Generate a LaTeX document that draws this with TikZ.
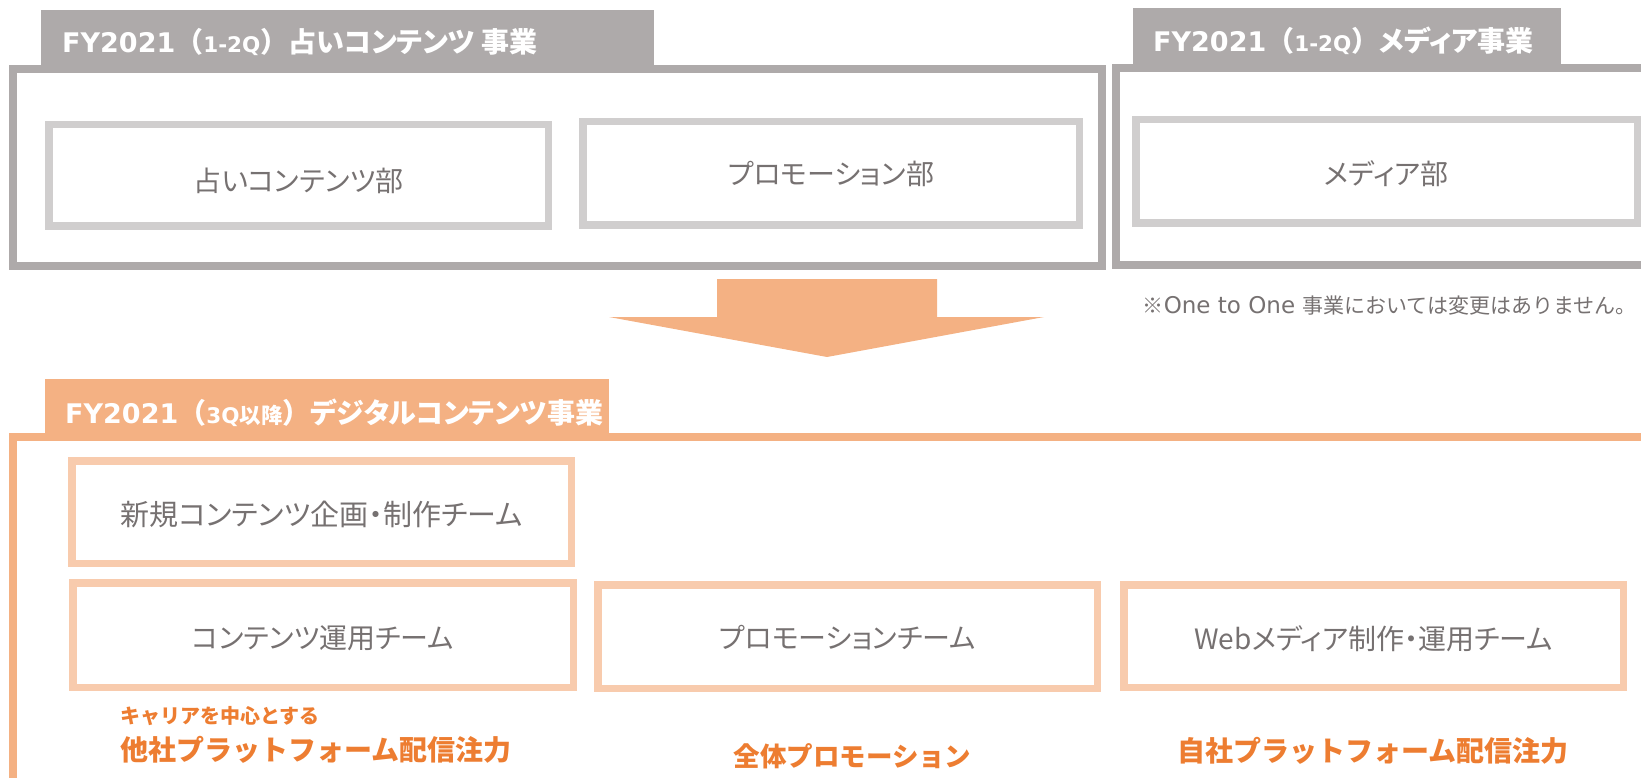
\documentclass[tikz,border=0pt]{standalone}
\usepackage{fontspec}
\newfontfamily\jp[RawFeature=+palt]{Noto Sans CJK JP}
\newfontfamily\jpf{Noto Sans CJK JP}
\newfontfamily\lat{DejaVu Sans}
\definecolor{cgray}{HTML}{AEAAAA}
\definecolor{clgray}{HTML}{D0CECE}
\definecolor{corg}{HTML}{F4B183}
\definecolor{clorg}{HTML}{F8CBAD}
\definecolor{ctxt}{HTML}{767171}
\definecolor{cbold}{HTML}{ED7D31}
\newcommand\ttl[2]{{\lat\bfseries\fontsize{27}{27}\selectfont FY2021}{\jpf\bfseries\fontsize{28}{28}\selectfont （}{\fontsize{21.5}{21.5}\selectfont #1}{\jpf\bfseries\fontsize{28}{28}\selectfont ）}{\jp\bfseries\fontsize{28}{28}\selectfont #2}}
\tikzset{
  frame/.style={line width=8pt, inner sep=0pt},
  tabbox/.style={inner sep=0pt},
  ttext/.style={anchor=base west, inner sep=0pt, text=white},
  gbox/.style={draw=clgray, line width=7.5pt, inner sep=0pt},
  obox/.style={gbox, draw=clorg},
  blbl/.style={inner sep=0pt, text=ctxt, font=\jp\fontsize{28}{34}\selectfont},
  otext/.style={inner sep=0pt, text=cbold},
}
\begin{document}
\begin{tikzpicture}[x=1pt,y=-1pt]
\useasboundingbox (0,0) rectangle (1641,778);
\clip (0,0) rectangle (1641,778);
% top left section
\node[tabbox, fill=cgray, minimum width=613pt, minimum height=56pt] (tab1) at (347.5,38) {};
\node[frame, draw=cgray, minimum width=1089pt, minimum height=197pt] (box1) at (557.5,167.5) {};
\node[ttext] (tab1t) at (62,53) {\ttl{{\lat\bfseries 1-2Q}}{占いコンテンツ 事業}};
\node[gbox, minimum width=499.5pt, minimum height=101.5pt] (b11) at (298.5,175.5) {};
\node[blbl] (b11t) at ([yshift=-5pt]b11.center) {占いコンテンツ部};
\node[gbox, minimum width=496.5pt, minimum height=103.5pt] (b12) at (831,173.5) {};
\node[blbl] (b12t) at (b12.center) {プロモーション部};
% top right section
\node[tabbox, fill=cgray, minimum width=428pt, minimum height=57pt] (tab2) at (1347,36.5) {};
\node[frame, draw=cgray, minimum width=580pt, minimum height=197pt] (box2) at (1406,166.5) {};
\node[ttext] (tab2t) at (1153,52) {\ttl{{\lat\bfseries 1-2Q}}{メディア事業}};
\node[gbox, minimum width=501.5pt, minimum height=103.5pt] (b21) at (1386.5,171.5) {};
\node[blbl] (b21t) at ([yshift=-2pt]b21.center) {メディア部};
\node[anchor=base east, inner sep=0pt, text=ctxt] (note) at (1637,313) {{\jpf\fontsize{21}{21}\selectfont ※}{\lat\fontsize{23}{23}\selectfont One to One }{\jpf\fontsize{21}{21}\selectfont 事業においては変更はありません。}};
% arrow
\fill[corg] (717,279) -- (937,279) -- (937,317) -- (1044,317) -- (827,357) -- (609,317) -- (717,317) -- cycle;
% bottom section
\node[tabbox, fill=corg, minimum width=564pt, minimum height=55pt] (tab3) at (327,406.5) {};
\node[frame, draw=corg, line width=8.5pt, minimum width=1681.75pt, minimum height=357.75pt] (box3) at (854.1,616.1) {};
\node[ttext] (tab3t) at (65,423) {\ttl{{\lat\bfseries 3Q}{\jpf\bfseries 以降}}{デジタルコンテンツ事業}};
\node[obox, minimum width=499.5pt, minimum height=102.5pt] (b31) at (321.5,512) {};
\node[blbl, font=\jp\fontsize{29}{34}\selectfont] (b31t) at ([yshift=-2pt]b31.center) {新規コンテンツ企画・制作チーム};
\node[obox, minimum width=500.5pt, minimum height=104.5pt] (b32) at (323,635) {};
\node[blbl] (b32t) at ([yshift=-3pt]b32.center) {コンテンツ運用チーム};
\node[obox, minimum width=499.5pt, minimum height=103.5pt] (b33) at (847.5,636.5) {};
\node[blbl] (b33t) at ([yshift=-1pt]b33.center) {プロモーションチーム};
\node[obox, minimum width=499.5pt, minimum height=102.5pt] (b34) at (1373.5,636) {};
\node[blbl] (b34t) at ([yshift=-3pt]b34.center) {Webメディア制作・運用チーム};
\node[otext, anchor=west, font=\jpf\bfseries\fontsize{20}{20}\selectfont] (o1a) at (120,716) {キャリアを中心とする};
\node[otext, anchor=west, font=\jpf\bfseries\fontsize{28}{28}\selectfont] (o1b) at (120,750) {他社プラットフォーム配信注力};
\node[otext, font=\jpf\bfseries\fontsize{26.5}{26.5}\selectfont] (o2) at (852.5,756) {全体プロモーション};
\node[otext, font=\jpf\bfseries\fontsize{28}{28}\selectfont] (o3) at (1373,751) {自社プラットフォーム配信注力};
\end{tikzpicture}
\end{document}
